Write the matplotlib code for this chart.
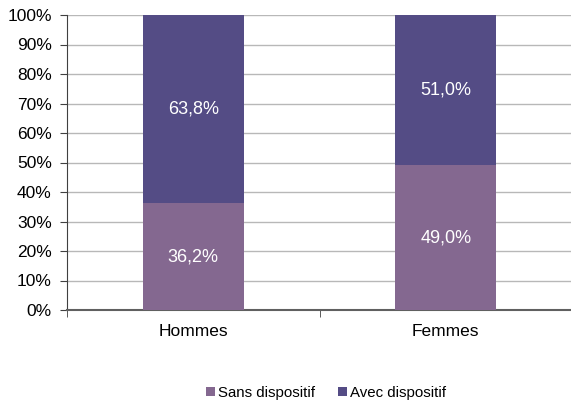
import matplotlib
matplotlib.use("Agg")
import matplotlib.pyplot as plt
from matplotlib.ticker import FuncFormatter

plt.rcParams['font.family'] = ['Liberation Sans', 'DejaVu Sans']

categories = ["Hommes", "Femmes"]
sans = [36.2, 49.0]
avec = [63.8, 51.0]
series_names = ["Sans dispositif", "Avec dispositif"]
colors = ["#846890", "#544C85"]

fig = plt.figure(figsize=(5.71, 4.03), dpi=100)
ax = fig.add_axes([67/571, 1 - 310/403, (572-67)/571, (310-15)/403])

x = [0, 1]
b1 = ax.bar(x, sans, width=0.4, color=colors[0], label=series_names[0], zorder=3)
b2 = ax.bar(x, avec, width=0.4, bottom=sans, color=colors[1], label=series_names[1], zorder=3)

for xi, v in zip(x, sans):
    ax.text(xi, v / 2, f"{v:.1f}%".replace('.', ','), ha='center', va='center',
            color='white', fontsize=13, zorder=4)
for xi, s, v in zip(x, sans, avec):
    ax.text(xi, s + v / 2, f"{v:.1f}%".replace('.', ','), ha='center', va='center',
            color='white', fontsize=13, zorder=4)

ax.set_xlim(-0.5, 1.5)
ax.set_ylim(0, 100)
ax.set_yticks(range(0, 101, 10))
ax.yaxis.set_major_formatter(FuncFormatter(lambda v, p: f"{int(v)}%"))
ax.set_xticks(x)
ax.set_xticklabels(categories)
ax.set_xticks([-0.5, 0.5, 1.5], minor=True)
ax.tick_params(axis='x', which='major', length=0, labelsize=12.5, pad=10)
ax.tick_params(axis='x', which='minor', length=5, color='#404040', direction='out')
ax.tick_params(axis='y', length=5, color='#404040', labelsize=12.5, direction='out', pad=6)

ax.grid(axis='y', color='#b8b8b8', linewidth=1, zorder=0)
for s in ['top', 'right']:
    ax.spines[s].set_visible(False)
ax.spines['left'].set_color('#404040')
ax.spines['bottom'].set_color('#606060')
ax.spines['bottom'].set_linewidth(1.5)

fig.legend(handles=[b1, b2], labels=series_names, loc='center',
           bbox_to_anchor=(326/571, 1 - 393/403), ncol=2, frameon=False,
           fontsize=10.8, handlelength=0.6, handleheight=0.6, handletextpad=0.2,
           columnspacing=1.5)

fig.savefig("out.png", dpi=100)
